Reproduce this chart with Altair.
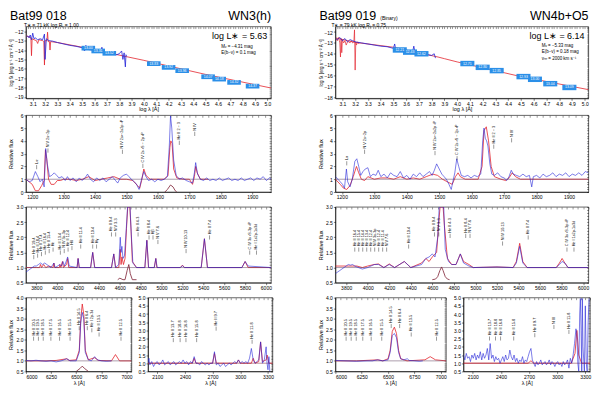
import altair as alt
import pandas as pd

FONT = "Liberation Sans"
RED = "#e3262f"
BLUE = "#2323d8"
DARK = "#7d1f33"
BOXC = "#2b8fe8"
GRAY = "#5a3a5a"

# ---------------- SED panels ----------------
SED1_MODEL_X = [3.05, 3.07, 3.085, 3.09, 3.095, 3.11, 3.13, 3.14, 3.15, 3.18, 3.19, 3.195, 3.20, 3.215, 3.22, 3.225, 3.235, 3.24, 3.245, 3.3, 3.5, 4.0, 4.5, 5.03]
SED1_MODEL_Y = [-12.5, -12.6, -12.7, -14.6, -12.8, -12.9, -13.0, -13.3, -12.9, -13.0, -13.1, -15.6, -13.0, -13.0, -12.1, -13.1, -13.1, -14.0, -13.1, -13.2, -13.7, -15.1, -16.6, -18.05]
SED1_OBS_X = [3.05, 3.06, 3.07, 3.08, 3.09, 3.10, 3.11, 3.12, 3.14, 3.16, 3.18, 3.195, 3.20, 3.21, 3.23, 3.26, 3.30, 3.35, 3.40, 3.45, 3.50, 3.52, 3.53, 3.55, 3.58, 3.62, 3.65, 3.66, 3.67, 3.70, 3.74, 3.78, 3.80, 3.82, 3.83, 3.84, 3.85, 3.855, 3.86]
SED1_OBS_Y = [-12.6, -12.5, -12.7, -12.4, -12.9, -12.2, -12.8, -12.7, -12.9, -12.8, -12.9, -12.3, -15.0, -12.8, -13.0, -13.05, -13.2, -13.35, -13.5, -13.6, -13.75, -14.1, -13.5, -13.95, -14.0, -14.1, -14.2, -13.7, -14.25, -14.3, -14.45, -14.5, -14.4, -14.1, -15.0, -14.3, -15.8, -14.5, -14.6]
SED1_BOX_X = [3.55, 3.63, 3.72, 4.08, 4.20, 4.31, 4.52, 4.61, 4.73, 4.88]
SED1_BOX_Y = [-13.8, -14.1, -14.35, -15.45, -15.85, -16.2, -16.85, -17.1, -17.45, -17.85]
SED1_BOX_T = ["13.00", "13.31", "13.52", "13.83", "13.92", "13.96", "14.07", "14.18", "14.32", "14.37"]

SED2_MODEL_X = [3.05, 3.2, 3.5, 3.85, 3.9, 4.0, 4.5, 5.03]
SED2_MODEL_Y = [-12.55, -12.95, -13.4, -14.3, -14.45, -14.75, -16.1, -17.3]
SED2_RED_X = [3.05, 3.06, 3.07, 3.08, 3.085, 3.09, 3.095, 3.10, 3.11, 3.12, 3.13, 3.14, 3.15, 3.16, 3.17, 3.18, 3.19, 3.195, 3.20, 3.205, 3.21, 3.22, 3.23]
SED2_RED_Y = [-12.6, -12.8, -12.5, -13.0, -14.3, -12.6, -13.9, -12.7, -13.0, -12.8, -13.2, -12.9, -12.9, -13.0, -12.8, -13.0, -12.9, -11.8, -15.5, -12.9, -13.2, -12.9, -13.1]
SED2_OBS_X = [3.05, 3.06, 3.08, 3.10, 3.12, 3.14, 3.16, 3.18, 3.20, 3.22, 3.25, 3.3, 3.35, 3.4, 3.45, 3.5, 3.51, 3.52, 3.55, 3.6, 3.65, 3.66, 3.67, 3.7, 3.75, 3.8, 3.82, 3.83]
SED2_OBS_Y = [-12.6, -12.7, -12.5, -12.8, -12.6, -12.9, -12.7, -12.8, -12.9, -12.95, -13.0, -13.1, -13.2, -13.3, -13.35, -13.5, -13.1, -13.7, -13.6, -13.75, -13.85, -13.3, -13.9, -13.95, -14.05, -14.15, -14.0, -14.4]
SED2_BOX_X = [3.55, 3.63, 3.72, 4.08, 4.20, 4.31, 4.52, 4.61, 4.73, 4.88]
SED2_BOX_Y = [-13.65, -13.85, -14.0, -14.9, -15.25, -15.55, -16.1, -16.35, -16.75, -17.1]
SED2_BOX_T = ["12.21", "12.43", "12.62", "12.71", "12.80", "12.85", "12.93", "13.00", "13.04", "13.09"]

# ---------------- UV panels ----------------
UV1_MODEL_X = [1180, 1200, 1210, 1220, 1230, 1238, 1242, 1246, 1252, 1260, 1270, 1280, 1290, 1300, 1320, 1340, 1360, 1380, 1400, 1420, 1440, 1460, 1480, 1500, 1520, 1535, 1542, 1548, 1555, 1562, 1575, 1600, 1620, 1632, 1638, 1641, 1645, 1650, 1660, 1680, 1700, 1710, 1716, 1720, 1725, 1735, 1760]
UV1_MODEL_Y = [1.0, 0.6, 0.1, 0.1, 0.5, 0.9, 3.3, 2.6, 1.0, 0.6, 0.6, 0.9, 0.9, 1.0, 1.0, 0.9, 1.0, 1.2, 0.9, 1.0, 1.1, 1.2, 1.0, 1.0, 0.9, 0.5, 0.3, 0.9, 1.8, 1.3, 1.0, 1.0, 1.0, 1.3, 3.5, 4.0, 3.8, 1.8, 1.1, 1.0, 1.0, 0.6, 1.2, 2.0, 1.5, 1.0, 1.0]
UV1_OBS_X = [1180, 1190, 1200, 1210, 1218, 1225, 1232, 1238, 1243, 1248, 1255, 1262, 1270, 1278, 1285, 1295, 1305, 1312, 1320, 1330, 1340, 1350, 1358, 1368, 1376, 1385, 1395, 1405, 1415, 1425, 1435, 1445, 1455, 1465, 1472, 1480, 1490, 1500, 1508, 1515, 1525, 1532, 1540, 1547, 1555, 1562, 1570, 1580, 1590, 1600, 1610, 1620, 1630, 1636, 1640, 1644, 1650, 1658, 1668, 1678, 1690, 1700, 1710, 1716, 1720, 1726, 1735, 1745, 1755, 1765, 1775, 1785, 1795, 1805, 1815, 1825, 1835, 1845, 1855, 1865, 1875, 1885, 1895, 1905, 1915, 1925, 1935, 1945, 1955, 1960]
UV1_OBS_Y = [1.0, 0.8, 0.9, 1.6, 1.2, 0.8, 1.0, 0.4, 3.4, 2.2, 1.2, 1.3, 1.5, 1.3, 1.1, 1.2, 0.9, 1.2, 0.9, 1.1, 0.8, 1.1, 0.9, 1.1, 1.4, 1.0, 0.8, 1.1, 0.9, 1.1, 0.8, 1.0, 1.2, 0.9, 0.7, 1.1, 1.3, 1.4, 1.2, 1.0, 0.8, 0.6, 0.2, 0.9, 1.6, 1.2, 0.9, 1.0, 0.8, 1.0, 0.9, 1.0, 1.2, 3.5, 5.95, 5.0, 2.5, 1.3, 1.0, 1.1, 0.9, 0.8, 0.7, 1.5, 2.3, 1.4, 1.0, 0.9, 1.1, 0.9, 1.0, 0.9, 1.1, 0.9, 1.0, 1.1, 0.9, 1.0, 0.9, 1.1, 0.9, 1.0, 1.1, 0.9, 1.1, 1.0, 1.2, 0.9, 1.1, 1.0]
UV1_COMP_X = [1622, 1630, 1640, 1648, 1655, 1660]
UV1_COMP_Y = [0.0, 0.2, 0.55, 0.4, 0.1, 0.0]
UV1_LBL_X = [1214, 1250, 1487, 1552, 1668, 1717]
UV1_LBL_Y = [2.2, 3.5, 3.4, 2.3, 4.1, 4.8]
UV_LBL_T = ["Lα", "N V 2s−2p", "N IV 2s²−2s2p ³P", "C IV 2s ²S − 2p ²P", "He II 2 − 3", "N IV"]

UV2_MODEL_X = [1180, 1195, 1205, 1215, 1225, 1235, 1245, 1252, 1260, 1270, 1280, 1290, 1300, 1320, 1340, 1360, 1380, 1400, 1420, 1440, 1460, 1480, 1495, 1510, 1525, 1540, 1550, 1558, 1565, 1580, 1600, 1620, 1632, 1638, 1645, 1652, 1660, 1670, 1690, 1705, 1715, 1725, 1735, 1750, 1960]
UV2_MODEL_Y = [1.0, 0.6, 0.3, 0.2, 0.5, 1.2, 2.0, 1.5, 1.0, 0.9, 1.2, 1.1, 1.0, 1.1, 1.1, 1.0, 1.2, 1.0, 1.1, 1.0, 1.2, 1.4, 1.3, 1.0, 0.8, 0.6, 1.2, 1.5, 1.2, 1.0, 1.0, 1.0, 2.0, 4.8, 5.1, 4.0, 2.0, 1.2, 1.0, 0.9, 1.1, 1.5, 1.2, 1.0, 1.0]
UV2_OBS_X = [1180, 1188, 1195, 1202, 1208, 1214, 1218, 1225, 1232, 1240, 1246, 1252, 1258, 1265, 1272, 1280, 1288, 1296, 1305, 1312, 1320, 1330, 1340, 1350, 1360, 1370, 1380, 1390, 1400, 1410, 1420, 1430, 1440, 1450, 1460, 1470, 1478, 1485, 1492, 1500, 1508, 1515, 1522, 1530, 1537, 1542, 1548, 1554, 1560, 1568, 1578, 1588, 1598, 1608, 1618, 1628, 1634, 1638, 1642, 1646, 1650, 1656, 1662, 1670, 1680, 1690, 1700, 1708, 1715, 1722, 1728, 1738, 1748, 1758, 1768, 1778, 1785, 1790, 1800, 1810, 1820, 1830, 1840, 1850, 1860, 1870, 1880, 1890, 1900, 1910, 1920, 1930, 1940, 1950, 1960]
UV2_OBS_Y = [1.2, 1.0, 0.8, 0.6, 0.3, 1.8, 0.8, 0.4, 1.0, 2.4, 2.6, 2.0, 1.3, 1.6, 1.8, 1.9, 1.2, 1.4, 1.3, 1.7, 1.2, 1.4, 1.1, 1.5, 1.3, 1.2, 1.6, 1.1, 1.3, 1.0, 1.4, 1.2, 1.5, 1.2, 1.4, 1.6, 1.3, 1.7, 2.2, 1.8, 1.4, 1.2, 1.0, 0.6, 0.2, 0.8, 1.5, 2.6, 2.0, 1.3, 1.2, 1.3, 1.1, 1.3, 1.2, 1.4, 4.0, 5.0, 4.2, 4.0, 3.6, 2.2, 1.4, 1.3, 1.5, 1.2, 1.1, 0.9, 1.2, 1.7, 1.4, 1.3, 1.2, 1.4, 1.2, 1.3, 0.4, 1.2, 1.3, 1.1, 1.4, 1.2, 1.3, 1.5, 1.2, 1.4, 1.3, 1.5, 1.2, 1.4, 1.3, 1.5, 1.3, 1.6, 1.5]
UV2_LBL_X = [1215, 1270, 1487, 1555, 1668, 1723]
UV2_LBL_Y = [2.5, 3.4, 3.3, 2.9, 3.8, 4.3]

# ---------------- optical panels ----------------
OPT1_MODEL_X = [3700, 3800, 3830, 3840, 3850, 3870, 3890, 3920, 3960, 3968, 3976, 4020, 4026, 4035, 4050, 4060, 4090, 4100, 4110, 4190, 4200, 4210, 4320, 4340, 4360, 4520, 4542, 4560, 4590, 4604, 4612, 4620, 4635, 4650, 4664, 4676, 4696, 4708, 4720, 4760, 4840, 4859, 4875, 4930, 4945, 4955, 5180, 5200, 5220, 5380, 5411, 5440, 5770, 5801, 5830, 6050]
OPT1_MODEL_Y = [1.0, 1.0, 1.0, 1.1, 1.0, 1.1, 1.0, 1.05, 1.0, 1.15, 1.0, 1.0, 1.1, 1.0, 1.2, 1.0, 1.1, 1.3, 1.0, 1.0, 1.3, 1.0, 1.0, 1.5, 1.0, 1.0, 1.45, 1.0, 1.0, 1.6, 1.1, 1.35, 1.1, 1.3, 2.3, 3.0, 3.0, 2.2, 1.2, 1.0, 1.0, 1.9, 1.0, 1.0, 1.3, 1.0, 1.0, 1.08, 1.0, 1.0, 1.95, 1.0, 1.0, 1.2, 1.0, 1.0]
OPT1_OBS_X = [3700, 3720, 3740, 3760, 3780, 3800, 3820, 3840, 3860, 3880, 3900, 3920, 3940, 3968, 3980, 4026, 4040, 4055, 4070, 4100, 4115, 4190, 4200, 4212, 4320, 4340, 4358, 4520, 4542, 4558, 4590, 4604, 4612, 4620, 4630, 4645, 4662, 4674, 4698, 4710, 4725, 4760, 4840, 4859, 4876, 4930, 4945, 4958, 5180, 5200, 5220, 5380, 5411, 5440, 5770, 5801, 5830, 6050]
OPT1_OBS_Y = [0.85, 0.9, 0.95, 1.0, 1.05, 1.05, 1.1, 1.15, 1.1, 1.15, 1.1, 1.05, 1.0, 1.15, 1.0, 1.1, 1.05, 1.2, 1.05, 1.35, 1.05, 1.0, 1.3, 1.0, 1.0, 1.5, 1.0, 1.0, 1.45, 1.0, 1.1, 2.0, 1.5, 1.7, 1.3, 1.4, 2.3, 3.0, 3.0, 2.1, 1.15, 1.0, 1.0, 1.9, 1.0, 1.0, 1.3, 1.0, 1.0, 1.06, 1.0, 1.0, 1.95, 1.0, 1.0, 1.2, 1.05, 1.0]
OPT1_COMP_X = [4580, 4600, 4630, 4650, 4670, 4686, 4700, 4720, 4760]
OPT1_COMP_Y = [0.6, 0.65, 0.6, 0.6, 0.9, 1.1, 0.8, 0.6, 0.6]
OPT1_LBL_X = [3775, 3812, 3849, 3886, 3923, 3960, 4030, 4067, 4104, 4141, 4225, 4340, 4377, 4520, 4560, 4775, 4880, 4918, 4965, 5235, 5460, 5845, 5910]
OPT1_LBL_Y = [1.45, 1.5, 1.55, 1.6, 1.65, 1.7, 1.6, 1.65, 1.7, 1.75, 1.8, 1.8, 1.8, 2.2, 2.2, 2.2, 2.1, 2.1, 1.95, 1.65, 2.1, 1.6, 1.6]
OPT_LBL_T = ["He II 19-4", "He II 18-4", "He II 17-4", "He II 16-4", "He II 15-4", "Hε", "He II 13-4", "N IV 3s-3p", "He II 12-4", "Hδ", "He II 11-4", "He II 10-4", "Hγ", "He II 9-4", "N V 3-3", "He II 4-3", "He II 8-4", "Hβ", "N V 7-6", "N IV 10-13", "He II 7-4", "C IV 3s ²S-3p ²P", "He I 1s2p-1s3d"]

OPT2_MODEL_X = [3700, 3800, 3900, 3950, 4000, 4060, 4100, 4150, 4200, 4250, 4340, 4400, 4500, 4540, 4570, 4600, 4640, 4660, 4672, 4700, 4712, 4740, 4780, 4820, 4860, 4890, 4940, 4980, 5200, 5350, 5380, 5411, 5440, 5480, 5750, 5780, 5805, 5830, 5860, 6050]
OPT2_MODEL_Y = [1.05, 1.05, 1.05, 1.0, 1.05, 1.1, 1.12, 1.0, 1.12, 1.0, 1.2, 1.0, 1.15, 1.3, 1.2, 1.35, 1.5, 2.5, 3.0, 3.0, 2.4, 1.3, 1.1, 1.1, 1.45, 1.2, 1.1, 1.0, 1.02, 1.0, 1.2, 1.8, 1.2, 1.0, 1.0, 1.15, 1.3, 1.15, 1.0, 1.0]
OPT2_OBS_X = [3700, 3720, 3740, 3760, 3780, 3800, 3820, 3840, 3860, 3880, 3900, 3950, 4000, 4060, 4100, 4150, 4200, 4250, 4340, 4400, 4500, 4540, 4570, 4600, 4625, 4650, 4664, 4706, 4720, 4750, 4780, 4820, 4860, 4890, 4940, 4980, 5200, 5350, 5380, 5411, 5440, 5480, 5750, 5780, 5805, 5830, 5860, 6050]
OPT2_OBS_Y = [0.8, 0.85, 0.9, 0.95, 1.0, 1.05, 1.1, 1.08, 1.1, 1.05, 1.02, 0.95, 1.0, 1.1, 1.1, 1.0, 1.1, 1.0, 1.2, 1.0, 1.1, 1.3, 1.35, 1.45, 1.35, 2.0, 3.0, 3.0, 1.6, 1.2, 1.1, 1.1, 1.45, 1.15, 1.05, 1.0, 1.02, 1.0, 1.15, 1.7, 1.15, 1.0, 1.0, 1.1, 1.2, 1.15, 1.0, 1.0]
OPT2_COMP_X = [4600, 4630, 4650, 4670, 4686, 4700, 4720, 4740, 4760]
OPT2_COMP_Y = [0.6, 0.62, 0.7, 0.9, 1.02, 0.9, 0.7, 0.62, 0.6]
OPT2_LBL_X = [3880, 3917, 3954, 3991, 4028, 4065, 4102, 4139, 4176, 4380, 4620, 4660, 4765, 4910, 4950, 5252, 5490, 5850, 5915]
OPT2_LBL_Y = [1.7, 1.7, 1.7, 1.7, 1.7, 1.7, 1.7, 1.7, 1.7, 1.8, 2.2, 2.2, 2.15, 2.15, 2.15, 1.9, 2.1, 1.7, 1.7]
OPT2_LBL_T = ["He II 16-4", "He II 15-4", "He II 14-4", "He II 13-4", "He II 12-4", "N IV 3s-3p", "He II 12-4", "He II 11-4", "N V 7-6", "He II 10-4", "He II 9-4", "N V 3-3", "He II 4-3", "He II 8-4", "N V 7-6", "N IV 10-13", "He II 7-4", "C IV 3s ²S-3p ²P", "He I 1s2p-1s3d"]

# ---------------- H-alpha panels ----------------
HA1_MODEL_X = [6000, 6100, 6200, 6300, 6406, 6430, 6500, 6530, 6545, 6560, 6575, 6590, 6620, 6683, 6720, 6850, 6890, 6930, 7050]
HA1_MODEL_Y = [1.0, 1.0, 1.0, 1.02, 1.1, 1.02, 1.05, 1.5, 3.0, 3.7, 3.2, 1.5, 1.05, 1.15, 1.02, 1.0, 1.3, 1.0, 1.0]
HA1_OBS_X = [6000, 6050, 6100, 6150, 6200, 6250, 6300, 6350, 6406, 6440, 6500, 6530, 6545, 6560, 6575, 6590, 6620, 6650, 6683, 6710, 6750, 6800, 6850]
HA1_OBS_Y = [1.02, 1.0, 1.03, 1.0, 0.98, 1.0, 0.95, 1.0, 1.1, 1.0, 1.0, 1.4, 2.8, 3.3, 3.0, 1.4, 1.05, 1.0, 1.2, 1.05, 1.0, 0.98, 1.0]
HA1_COMP_X = [6500, 6540, 6560, 6580, 6620]
HA1_COMP_Y = [0.5, 0.65, 0.75, 0.65, 0.5]
HA1_LBL_X = [6076, 6124, 6172, 6248, 6334, 6439, 6530, 6610, 6655, 6727, 6945]
HA1_LBL_Y = [2.2, 2.2, 2.2, 2.2, 2.2, 2.2, 2.7, 2.7, 2.6, 2.4, 2.2]
HA_LBL_T = ["He II 20-5", "He II 19-5", "He II 18-5", "He II 17-5", "He II 16-5", "He II 15-5", "He II 14-5", "He II 6-4", "He I 2p-3d", "He II 13-5", "He II 12-5"]

HA2_MODEL_X = [6000, 6200, 6406, 6450, 6500, 6520, 6540, 6560, 6580, 6600, 6620, 6680, 6850, 6900, 6950, 7050]
HA2_MODEL_Y = [1.0, 1.0, 1.05, 1.0, 1.1, 1.5, 2.4, 2.6, 2.3, 1.5, 1.1, 1.0, 1.05, 1.2, 1.05, 1.0]
HA2_OBS_X = [6000, 6100, 6200, 6300, 6350, 6400, 6450, 6500, 6520, 6540, 6560, 6580, 6600, 6620, 6650, 6683, 6700, 6750, 6800, 6830]
HA2_OBS_Y = [1.02, 1.0, 0.98, 1.0, 1.0, 1.05, 1.0, 1.05, 1.4, 2.2, 2.3, 2.1, 1.4, 1.1, 1.05, 1.1, 1.02, 1.0, 0.98, 1.0]
HA2_LBL_X = [6102, 6150, 6198, 6260, 6340, 6440, 6530, 6610, 6720, 6960]
HA2_LBL_Y = [2.2, 2.2, 2.2, 2.2, 2.2, 2.2, 2.8, 2.8, 2.4, 2.2]
HA2_LBL_T = ["He II 20-5", "He II 19-5", "He II 18-5", "He II 17-5", "He II 16-5", "He II 15-5", "He II 14-5", "He II 6-4", "He II 13-5", "He II 12-5"]

# ---------------- long-wavelength panels ----------------
IR1_MODEL_X = [2000, 2480, 2500, 2520, 2700, 2720, 2740, 2960, 2980, 3000, 3120, 3140, 3160, 3200, 3220, 3240, 3280, 3290, 3310, 3350]
IR1_MODEL_Y = [1.0, 1.0, 1.3, 1.0, 1.0, 1.6, 1.0, 1.0, 1.2, 1.0, 1.0, 1.3, 1.0, 1.1, 2.3, 1.1, 1.2, 1.5, 1.0, 1.0]
IR1_OBS_X = [2000, 2010, 2020, 2040, 2060, 2080, 2100, 2120, 2140, 2160, 2180, 2200, 2220, 2240, 2260, 2280, 2300, 2320, 2340, 2360, 2380, 2400, 2420, 2440, 2460, 2480, 2500, 2520, 2540, 2560, 2580, 2600, 2620, 2640, 2660, 2680, 2700, 2720, 2740, 2760, 2780, 2800, 2820, 2840, 2860, 2880, 2900, 2920, 2940, 2960, 2980, 3000, 3020, 3040, 3060, 3080, 3100, 3120, 3140, 3160, 3180, 3200, 3220, 3240, 3260, 3280, 3290, 3300, 3310, 3320]
IR1_OBS_Y = [1.0, 1.3, 0.9, 1.1, 0.8, 1.0, 1.1, 0.9, 1.0, 1.2, 0.9, 1.0, 1.1, 0.9, 1.0, 1.1, 0.9, 1.0, 1.1, 1.0, 1.2, 1.0, 1.1, 0.9, 1.1, 1.0, 1.4, 1.0, 1.0, 0.9, 1.1, 1.0, 0.9, 1.0, 0.9, 1.0, 1.0, 1.7, 0.9, 1.0, 0.8, 0.9, 1.0, 0.8, 0.9, 1.0, 0.9, 1.0, 1.1, 1.0, 1.2, 1.0, 1.1, 1.0, 1.1, 1.0, 1.3, 1.9, 1.2, 1.0, 1.1, 1.2, 2.3, 1.0, 1.2, 2.0, 1.0, 0.6, 1.4, 0.5]
IR1_LBL_X = [2274, 2348, 2411, 2527, 2738, 3128]
IR1_LBL_Y = [2.6, 2.6, 2.6, 2.6, 3.3, 2.5]
IR1_LBL_T = ["He II 13-7", "He II 18-8", "He II 16-8", "He II 15-8", "He II 9-7", "He II 11-8"]

IR2_MODEL_X = [2000, 2690, 2720, 2750, 3150, 3190, 3210, 3230, 3260, 3350]
IR2_MODEL_Y = [1.0, 1.0, 1.15, 1.0, 1.0, 1.6, 3.0, 1.5, 1.0, 1.0]
IR2_OBS_X = [2000, 2015, 2030, 2045, 2060, 2075, 2090, 2105, 2120, 2135, 2150, 2165, 2180, 2195, 2210, 2225, 2240, 2255, 2270, 2285, 2300, 2315, 2330, 2345, 2360, 2375, 2390, 2405, 2420, 2435, 2450, 2465, 2480, 2495, 2510, 2525, 2540, 2555, 2570, 2585, 2600, 2615, 2630, 2645, 2660, 2675, 2690, 2705, 2720, 2735, 2750, 2765, 2780, 2795, 2810, 2825, 2840, 2855, 2870, 2885, 2900, 2915, 2930, 2945, 2960, 2975, 2990, 3005, 3020, 3035, 3050, 3065, 3080, 3095, 3110, 3125, 3140, 3155, 3170, 3185, 3200, 3210, 3220, 3230, 3240, 3247, 3255, 3262, 3268, 3275, 3290, 3300, 3310, 3320, 3330, 3340]
IR2_OBS_Y = [1.5, 1.2, 1.6, 1.3, 1.4, 1.1, 1.5, 1.3, 1.6, 1.2, 1.5, 1.3, 1.7, 1.2, 1.6, 1.3, 1.5, 1.9, 1.2, 2.2, 1.3, 1.5, 1.1, 1.4, 1.2, 1.3, 1.0, 1.2, 1.4, 1.1, 1.5, 1.2, 1.3, 1.8, 1.4, 1.2, 1.5, 1.1, 1.3, 1.0, 1.2, 1.1, 1.4, 1.0, 1.2, 1.1, 1.4, 1.7, 1.9, 1.2, 1.0, 0.8, 1.1, 0.9, 1.0, 1.2, 0.9, 1.0, 1.1, 0.9, 1.0, 1.2, 0.9, 1.1, 1.0, 0.8, 1.0, 1.1, 0.9, 1.0, 0.8, 1.1, 0.9, 1.0, 1.2, 0.7, 1.3, 1.0, 1.5, 2.2, 3.1, 2.8, 1.0, 0.5, 4.0, 4.95, 3.0, 0.5, 4.95, 2.0, 0.5, 4.5, 1.0, 0.5, 3.5, 4.95]
IR2_LBL_X = [2278, 2342, 2396, 2536, 2761, 2965, 3125]
IR2_LBL_Y = [2.7, 2.7, 2.7, 2.7, 2.9, 3.4, 3.1]
IR2_LBL_T = ["He II 13-7", "He II 18-8", "He II 16-8", "He II 15-8", "He II 9-7", "N III", "He II 11-8"]


def df_xy(xs, ys):
    return pd.DataFrame({"x": xs, "y": ys})


def mk_axis(values, fmt, title, **kw):
    return alt.Axis(values=values, format=fmt, title=title, tickCount=60, **kw)


def steps(lo, hi, step):
    n = int(round((hi - lo) / step))
    return [round(lo + i * step, 4) for i in range(n + 1)]


def minor_layer(xsc, ysc, xdom, ydom, xstep, ystep):
    """Invisible layer whose only job is to draw inward minor ticks on the top and right frame edges."""
    d = pd.DataFrame({"x": [xdom[0]], "y": [ydom[0]]})
    xv = [v for v in steps(xstep * round(xdom[0] / xstep), xdom[1], xstep) if xdom[0] <= v <= xdom[1]]
    yv = [v for v in steps(ystep * round(ydom[0] / ystep), ydom[1], ystep) if ydom[0] <= v <= ydom[1]]
    common = dict(labels=False, domain=False, title=None, offset=-2, tickSize=2, tickCount=400,
                  minExtent=0, maxExtent=0, tickWidth=0.4)
    return alt.Chart(d).mark_point(opacity=0).encode(
        x=alt.X("x:Q", scale=xsc, axis=alt.Axis(orient="top", values=xv, **common)),
        y=alt.Y("y:Q", scale=ysc, axis=alt.Axis(orient="right", values=yv, **common)),
    )


def spec_panel(w, h, xdom, ydom, xticks, yticks, yfmt, ytitle, xtitle,
               mx, my, ox, oy, cx=None, cy=None, lx=None, ly=None, lt=None,
               basecolor=GRAY, xstep=20, ystep=0.1):
    xsc = alt.Scale(domain=xdom, nice=False, zero=False)
    ysc = alt.Scale(domain=ydom, nice=False, zero=False)
    ex_main = alt.X("x:Q", scale=xsc, axis=mk_axis(xticks, "d", xtitle))
    ey_main = alt.Y("y:Q", scale=ysc, axis=mk_axis(yticks, yfmt, ytitle))
    ex = alt.X("x:Q", scale=xsc, axis=None)
    ey = alt.Y("y:Q", scale=ysc, axis=None)
    layers = [
        alt.Chart(df_xy(mx, my)).mark_line(color=RED, strokeWidth=0.8, clip=True).encode(x=ex_main, y=ey_main),
        minor_layer(xsc, ysc, xdom, ydom, xstep, ystep),
        alt.Chart(pd.DataFrame({"y": [1.0]})).mark_rule(color=basecolor, strokeWidth=0.5).encode(y=ey),
    ]
    if cx is not None:
        layers.append(alt.Chart(df_xy(cx, cy)).mark_line(color=DARK, strokeWidth=0.8, clip=True).encode(x=ex, y=ey))
    layers.append(alt.Chart(df_xy(ox, oy)).mark_line(color=BLUE, strokeWidth=0.7, opacity=0.85, clip=True).encode(x=ex, y=ey))
    if lx is not None:
        d = pd.DataFrame({"x": lx, "y": ly, "t": lt})
        span = ydom[1] - ydom[0]
        d["y0"] = d["y"] - 0.07 * span
        d["y1"] = d["y"] - 0.015 * span
        layers.append(alt.Chart(d).mark_rule(color="black", strokeWidth=0.4, clip=True).encode(
            x=ex, y=alt.Y("y0:Q", scale=ysc, axis=None), y2="y1"))
        layers.append(alt.Chart(d).mark_text(angle=270, align="left", baseline="middle", fontSize=3.8,
                                             font=FONT, color="black", clip=True).encode(x=ex, y=ey, text="t:N"))
    return alt.layer(*layers).resolve_axis(x="independent", y="independent").properties(width=w, height=h)


def txt(s, x, y, size, align="left", baseline="middle", color="black"):
    return alt.Chart(pd.DataFrame({"t": [s]})).mark_text(
        align=align, baseline=baseline, fontSize=size, font=FONT, color=color
    ).encode(x=alt.value(x), y=alt.value(y), text="t:N")


def sed_panel(w, h, ydom, yticks, mx, my, ox, oy, bx, by, bt, texts, rx=None, ry=None):
    xdom = [3.045, 5.03]
    xsc = alt.Scale(domain=xdom, nice=False, zero=False)
    ysc = alt.Scale(domain=ydom, nice=False, zero=False)
    xax = mk_axis([3.1, 3.2, 3.3, 3.4, 3.5, 3.6, 3.7, 3.8, 3.9, 4.0, 4.1, 4.2, 4.3, 4.4, 4.5, 4.6, 4.7, 4.8, 4.9, 5.0],
                  ".1f", "log λ [Å]", titlePadding=0)
    yax = mk_axis(yticks, "d", "log fλ [erg s⁻¹ cm⁻² Å⁻¹]", titleFontSize=4.6)
    ex_main = alt.X("x:Q", scale=xsc, axis=xax)
    ey_main = alt.Y("y:Q", scale=ysc, axis=yax)
    ex = alt.X("x:Q", scale=xsc, axis=None)
    ey = alt.Y("y:Q", scale=ysc, axis=None)
    layers = [alt.Chart(df_xy(mx, my)).mark_line(color=RED, strokeWidth=0.8, clip=True).encode(x=ex_main, y=ey_main),
              minor_layer(xsc, ysc, xdom, ydom, 0.02, 0.2)]
    if rx is not None:
        layers.append(alt.Chart(df_xy(rx, ry)).mark_line(color=RED, strokeWidth=0.7, clip=True).encode(x=ex, y=ey))
    layers.append(alt.Chart(df_xy(ox, oy)).mark_line(color=BLUE, strokeWidth=0.8, clip=True).encode(x=ex, y=ey))
    b = pd.DataFrame({"x": bx, "y": by, "t": bt})
    b["xa"] = b["x"] - 0.055
    b["xb"] = b["x"] + 0.055
    b["ya"] = b["y"] - 0.25
    b["yb"] = b["y"] + 0.25
    layers.append(alt.Chart(b).mark_rect(color=BOXC).encode(
        x=alt.X("xa:Q", scale=xsc, axis=None), x2="xb", y=alt.Y("ya:Q", scale=ysc, axis=None), y2="yb"))
    layers.append(alt.Chart(b).mark_text(color="white", fontSize=3.5, font=FONT).encode(
        x=ex, y=ey, text="t:N"))
    layers.extend(texts)
    return alt.layer(*layers).resolve_axis(x="independent", y="independent").properties(width=w, height=h)


# ---------------- layout ----------------
LW, RW = 246, 254
HS, HU, HO, HB = 72, 77, 76, 74

sed1 = sed_panel(LW, HS, [-19.15, -11.5], [-12, -13, -14, -15, -16, -17, -18, -19],
                 SED1_MODEL_X, SED1_MODEL_Y, SED1_OBS_X, SED1_OBS_Y,
                 SED1_BOX_X, SED1_BOX_Y, SED1_BOX_T,
                 [txt("Bat99 018", -16, -17, 12.5, baseline="top"),
                  txt("WN3(h)", LW, -17, 12.5, align="right", baseline="top"),
                  txt("T∗ =  71 kK   log Rₜ = 1.00", -2, -2.0, 5),
                  txt("log L∗ = 5.63", LW - 4, 9, 9, align="right"),
                  txt("Mᵥ = −4.31 mag", 196, 20, 4.5),
                  txt("E(b−v) = 0.1 mag", 196, 27, 4.5)])

sed2 = sed_panel(RW, HS, [-18.1, -11.5], [-12, -13, -14, -15, -16, -17, -18],
                 SED2_MODEL_X, SED2_MODEL_Y, SED2_OBS_X, SED2_OBS_Y,
                 SED2_BOX_X, SED2_BOX_Y, SED2_BOX_T,
                 [txt("Bat99 019", -16, -17, 12.5, baseline="top"),
                  txt("(Binary)", 45, -9, 5),
                  txt("WN4b+O5", RW, -17, 12.5, align="right", baseline="top"),
                  txt("T∗ =  79 kK   log Rₜ = 0.75", -4, -2.0, 5),
                  txt("log L∗ = 6.14", RW - 4, 9, 9, align="right"),
                  txt("Mᵥ = −5.33 mag", 207, 19, 4.5),
                  txt("E(b−v) = 0.18 mag", 207, 26, 4.5),
                  txt("v∞ = 2000 km s⁻¹", 207, 33, 4.5)],
                 rx=SED2_RED_X, ry=SED2_RED_Y)

UVT = [1200, 1300, 1400, 1500, 1600, 1700, 1800, 1900]
UVY = [0, 1, 2, 3, 4, 5, 6]
OPT_T = [3800, 4000, 4200, 4400, 4600, 4800, 5000, 5200, 5400, 5600, 5800, 6000]
OPT_Y = [0.5, 1.0, 1.5, 2.0, 2.5, 3.0]
HA_T = [6000, 6250, 6500, 6750, 7000]
HA_Y = [0.5, 1.0, 1.5, 2.0, 2.5, 3.0, 3.5, 4.0]
IR_T = [2100, 2400, 2700, 3000, 3300]
IR_Y = [0.5, 1.0, 1.5, 2.0, 2.5, 3.0, 3.5, 4.0, 4.5, 5.0]

uv1 = spec_panel(LW, HU, [1180, 1960], [0, 6], UVT, UVY, "d", "Relative flux", None,
                 UV1_MODEL_X, UV1_MODEL_Y, UV1_OBS_X, UV1_OBS_Y, UV1_COMP_X, UV1_COMP_Y,
                 UV1_LBL_X, UV1_LBL_Y, UV_LBL_T, xstep=20, ystep=0.2)
uv2 = spec_panel(RW, HU, [1180, 1960], [0, 6], UVT, UVY, "d", "Relative flux", None,
                 UV2_MODEL_X, UV2_MODEL_Y, UV2_OBS_X, UV2_OBS_Y, None, None,
                 UV2_LBL_X, UV2_LBL_Y, UV_LBL_T, xstep=20, ystep=0.2)
opt1 = spec_panel(LW, HO, [3700, 6050], [0.5, 3.0], OPT_T, OPT_Y, ".1f", "Relative flux", None,
                  OPT1_MODEL_X, OPT1_MODEL_Y, OPT1_OBS_X, OPT1_OBS_Y, OPT1_COMP_X, OPT1_COMP_Y,
                  OPT1_LBL_X, OPT1_LBL_Y, OPT_LBL_T, xstep=50, ystep=0.1)
opt2 = spec_panel(RW, HO, [3700, 6050], [0.5, 3.0], OPT_T, OPT_Y, ".1f", "Relative flux", None,
                  OPT2_MODEL_X, OPT2_MODEL_Y, OPT2_OBS_X, OPT2_OBS_Y, OPT2_COMP_X, OPT2_COMP_Y,
                  OPT2_LBL_X, OPT2_LBL_Y, OPT2_LBL_T, xstep=50, ystep=0.1)
ha1 = spec_panel(106, HB, [6000, 7050], [0.5, 4.0], HA_T, HA_Y, ".1f", "Relative flux", "λ [Å]",
                 HA1_MODEL_X, HA1_MODEL_Y, HA1_OBS_X, HA1_OBS_Y, HA1_COMP_X, HA1_COMP_Y,
                 HA1_LBL_X, HA1_LBL_Y, HA_LBL_T, xstep=50, ystep=0.1)
ir1 = spec_panel(125, HB, [2000, 3350], [0.5, 5.0], IR_T, IR_Y, ".1f", None, "λ [Å]",
                 IR1_MODEL_X, IR1_MODEL_Y, IR1_OBS_X, IR1_OBS_Y, None, None,
                 IR1_LBL_X, IR1_LBL_Y, IR1_LBL_T, basecolor=DARK, xstep=50, ystep=0.1)
ha2 = spec_panel(111, HB, [6000, 7050], [0.5, 4.0], HA_T, HA_Y, ".1f", "Relative flux", "λ [Å]",
                 HA2_MODEL_X, HA2_MODEL_Y, HA2_OBS_X, HA2_OBS_Y, None, None,
                 HA2_LBL_X, HA2_LBL_Y, HA2_LBL_T, xstep=50, ystep=0.1)
ir2 = spec_panel(127, HB, [2000, 3350], [0.5, 5.0], IR_T, IR_Y, ".1f", None, "λ [Å]",
                 IR2_MODEL_X, IR2_MODEL_Y, IR2_OBS_X, IR2_OBS_Y, None, None,
                 IR2_LBL_X, IR2_LBL_Y, IR2_LBL_T, basecolor=DARK, xstep=50, ystep=0.1)

bot1 = alt.hconcat(ha1, ir1, spacing=3.5)
bot2 = alt.hconcat(ha2, ir2, spacing=4.5)

col1 = alt.vconcat(sed1, alt.vconcat(uv1, opt1, bot1, spacing=3), spacing=0)
col2 = alt.vconcat(sed2, alt.vconcat(uv2, opt2, bot2, spacing=3), spacing=0)

chart = alt.hconcat(col1, col2, spacing=43.5).properties(
    padding={"left": 0, "right": 0, "top": 0, "bottom": 0}
).configure(font=FONT).configure_axis(
    grid=False, domainColor="black", domainWidth=0.6, tickColor="black", tickWidth=0.5, tickSize=2,
    labelFontSize=5, labelFont=FONT, labelColor="black", labelPadding=1, labelOverlap=False,
    titleFontSize=5.5, titleFont=FONT, titleFontWeight="normal", titleColor="black", titlePadding=1,
).configure_axisY(minExtent=11, maxExtent=11).configure_axisX(minExtent=8, maxExtent=8
).configure_view(stroke="black", strokeWidth=0.6)

chart.save("out.html", embed_options={"renderer": "svg", "actions": False})
